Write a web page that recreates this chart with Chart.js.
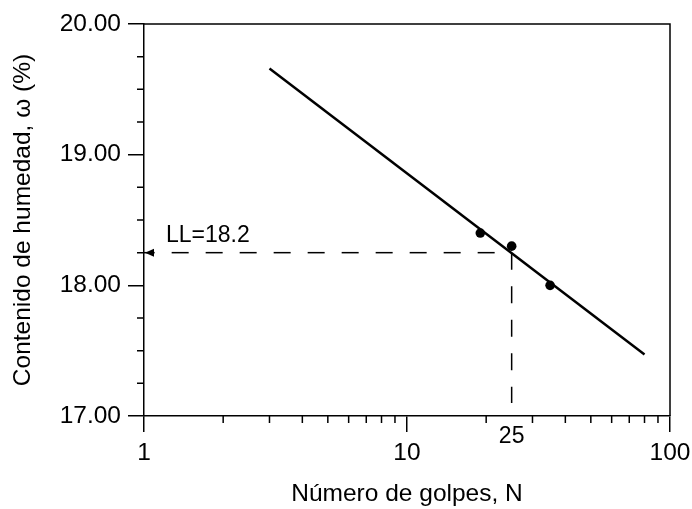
<!DOCTYPE html>
<html>
<head>
<meta charset="utf-8">
<title>Límite líquido</title>
<script src="https://cdn.jsdelivr.net/npm/chart.js@4.4.1/dist/chart.umd.min.js"></script>
<style>
  html, body { margin: 0; padding: 0; background: #fff; }
</style>
</head>
<body>
<canvas id="chart" width="692" height="509"></canvas>
<script>
// ensayo de Casagrande: número de golpes vs contenido de humedad
const golpes = [19, 25, 35];
const humedad = [18.4, 18.3, 18.0];

// recta de fluidez (extremos)
const rectaN = [3, 80];
const rectaW = [19.66, 17.47];

// lectura del límite líquido a 25 golpes
const nLL = 25;
const LL = 18.25;
const corteW = 17.1;
const textoLL = 'LL=18.2';

const xMajor = [1, 10, 100];
const xMinor = [2, 3, 4, 5, 6, 7, 8, 9, 20, 30, 40, 50, 60, 70, 80, 90];
const yMajor = [17, 18, 19, 20];
const yMinor = [17.25, 17.5, 17.75, 18.25, 18.5, 18.75, 19.25, 19.5, 19.75];

const familia = '"Liberation Sans", Arial, sans-serif';
const fuente = { family: familia, size: 24.5 };
const fuenteInterna = { family: familia, size: 23 };
const negro = '#000';

const marcas = {
  id: 'marcas',
  afterDatasetsDraw(chart) {
    const { ctx, chartArea: a } = chart;
    const xs = chart.scales.x, ys = chart.scales.y;
    ctx.save();
    ctx.strokeStyle = negro;
    ctx.fillStyle = negro;
    ctx.lineWidth = 1.5;

    // marco superior y derecho
    ctx.beginPath();
    ctx.moveTo(a.left, a.top);
    ctx.lineTo(a.right, a.top);
    ctx.lineTo(a.right, a.bottom);
    ctx.stroke();

    // marcas menores
    ctx.beginPath();
    xMinor.forEach(v => {
      const x = xs.getPixelForValue(v);
      ctx.moveTo(x, a.bottom);
      ctx.lineTo(x, a.bottom + 7);
    });
    yMinor.forEach(v => {
      const y = ys.getPixelForValue(v);
      ctx.moveTo(a.left, y);
      ctx.lineTo(a.left - 7, y);
    });
    ctx.stroke();

    // punta de flecha en el eje de humedad
    const px = xs.getPixelForValue(xMajor[0]);
    const py = ys.getPixelForValue(LL);
    ctx.beginPath();
    ctx.moveTo(px + 1, py);
    ctx.lineTo(px + 10, py - 4);
    ctx.lineTo(px + 10, py + 4);
    ctx.closePath();
    ctx.fill();

    // textos
    ctx.font = fuenteInterna.size + 'px ' + familia;
    ctx.textBaseline = 'middle';
    ctx.textAlign = 'left';
    ctx.fillText(textoLL, px + 22, py - 17);
    ctx.textAlign = 'center';
    ctx.fillText(String(nLL), xs.getPixelForValue(nLL), a.bottom + 21);
    ctx.restore();
  }
};

new Chart(document.getElementById('chart'), {
  data: {
    datasets: [
      {
        type: 'line',
        data: rectaN.map((n, i) => ({ x: n, y: rectaW[i] })),
        borderColor: negro,
        borderWidth: 2.5,
        pointRadius: 0
      },
      {
        type: 'line',
        data: [{ x: nLL, y: LL }, { x: xMajor[0], y: LL }],
        borderColor: negro,
        borderWidth: 1.5,
        borderDash: [17, 17],
        borderDashOffset: 17,
        pointRadius: 0
      },
      {
        type: 'line',
        data: [{ x: nLL, y: LL }, { x: nLL, y: corteW }],
        borderColor: negro,
        borderWidth: 1.5,
        borderDash: [17, 16.5],
        pointRadius: 0
      },
      {
        type: 'scatter',
        data: golpes.map((n, i) => ({ x: n, y: humedad[i] })),
        backgroundColor: negro,
        borderWidth: 0,
        pointRadius: 4.8
      }
    ]
  },
  options: {
    responsive: false,
    devicePixelRatio: 1,
    animation: false,
    layout: { padding: { top: 24, right: 22, left: 0, bottom: 0 } },
    plugins: { legend: { display: false }, tooltip: { enabled: false } },
    scales: {
      x: {
        type: 'logarithmic',
        min: 1,
        max: 100,
        afterBuildTicks: s => { s.ticks = xMajor.map(v => ({ value: v })); },
        afterFit: s => {
          s.height = 93;
          s.paddingLeft = 0;
          s.paddingRight = 0;
        },
        ticks: {
          callback: v => String(v),
          font: fuente,
          color: negro,
          padding: 7,
          maxRotation: 0,
          autoSkip: false
        },
        grid: { drawOnChartArea: false, tickLength: 16, color: negro, lineWidth: 1.5 },
        border: { color: negro, width: 1.5 },
        title: {
          display: true,
          text: 'Número de golpes, N',
          font: fuente,
          color: negro,
          padding: { top: 0, bottom: 0 }
        }
      },
      y: {
        type: 'linear',
        min: 17,
        max: 20,
        afterBuildTicks: s => { s.ticks = yMajor.map(v => ({ value: v })); },
        afterFit: s => {
          s.width = 144;
          s.paddingTop = 0;
          s.paddingBottom = 0;
        },
        ticks: {
          callback: v => v.toFixed(2),
          font: fuente,
          color: negro,
          padding: 7
        },
        grid: { drawOnChartArea: false, tickLength: 16, color: negro, lineWidth: 1.5 },
        border: { color: negro, width: 1.5 },
        title: {
          display: true,
          text: 'Contenido de humedad, ω (%)',
          font: fuente,
          color: negro,
          padding: { top: 9, bottom: 0 }
        }
      }
    }
  },
  plugins: [marcas]
});
</script>
</body>
</html>
